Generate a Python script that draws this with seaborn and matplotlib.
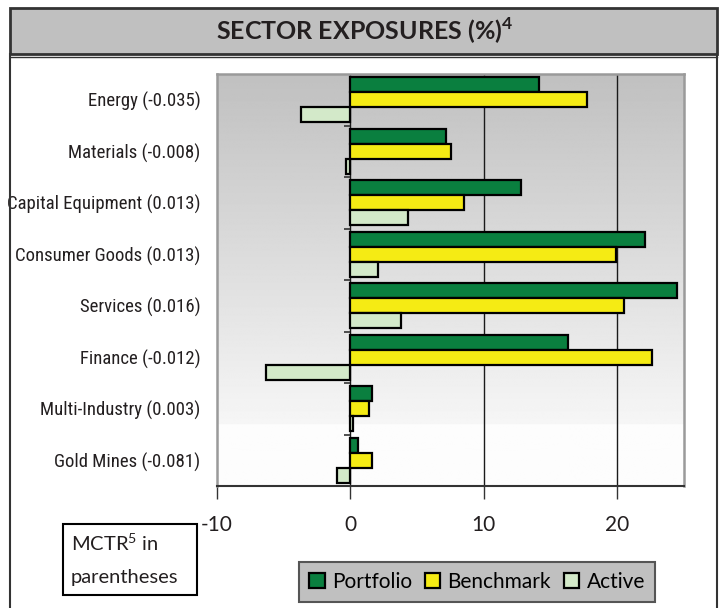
import numpy as np
import pandas as pd
import matplotlib
matplotlib.use("Agg")
import matplotlib.pyplot as plt
import seaborn as sns
from matplotlib.patches import Rectangle
from matplotlib.lines import Line2D
from matplotlib import font_manager

# ---- data ----
sectors = ["Energy (-0.035)", "Materials (-0.008)", "Capital Equipment (0.013)",
           "Consumer Goods (0.013)", "Services (0.016)", "Finance (-0.012)",
           "Multi-Industry (0.003)", "Gold Mines (-0.081)"]
portfolio = [14.1, 7.2, 12.8, 22.1, 24.5, 16.3, 1.6, 0.6]
benchmark = [17.7, 7.5, 8.5, 19.9, 20.5, 22.6, 1.4, 1.6]
active = [-3.7, -0.3, 4.3, 2.1, 3.8, -6.3, 0.2, -1.0]
series = ["Portfolio", "Benchmark", "Active"]
colors = ["#0a7f3f", "#f5eb14", "#d3e9c9"]
xticks = [-10, 0, 10, 20]
title = "SECTOR EXPOSURES (%)"

plt.rcParams["font.family"] = ["Lato", "DejaVu Sans"]
plt.rcParams["mathtext.fontset"] = "custom"
plt.rcParams["mathtext.rm"] = "Lato"
plt.rcParams["mathtext.bf"] = "Lato:bold"
plt.rcParams["axes.unicode_minus"] = False

LABEL_SIZE = 13.5
# pick a condensed family for the category labels if one is installed
names = sorted({f.name for f in font_manager.fontManager.ttflist})
narrow = None
for cand in ["Liberation Sans Narrow", "DejaVu Sans Condensed", "Roboto Condensed",
             "Open Sans Condensed", "Noto Sans Condensed"]:
    if cand in names:
        narrow = cand
        break
if narrow is None:
    cond = [f for f in font_manager.fontManager.ttflist
            if f.stretch in ("condensed", "semi-condensed", 500, 600) or "Condensed" in f.fname
            or "Narrow" in f.fname]
    regular = [f for f in cond if f.weight in (400, "normal", "regular") and f.style == "normal"]
    if regular:
        narrow = font_manager.FontProperties(fname=regular[0].fname)
if isinstance(narrow, str):
    label_font = font_manager.FontProperties(family=[narrow, "DejaVu Sans"], size=LABEL_SIZE)
elif narrow is not None:
    label_font = narrow.copy()
    label_font.set_size(LABEL_SIZE)
else:
    label_font = font_manager.FontProperties(family=["Lato", "DejaVu Sans"], size=11.2)

df = pd.DataFrame({
    "Sector": sectors * 3,
    "Series": sum([[s] * len(sectors) for s in series], []),
    "Value": portfolio + benchmark + active,
})

W, H = 720, 608
fig = plt.figure(figsize=(W / 100, H / 100), dpi=100)

def fx(x):
    return x / W

def fy(y):
    return 1 - y / H

# outer frame and title box
fig.add_artist(Line2D([fx(10), fx(10)], [fy(54), fy(610)], color="#333333", lw=1.5))
fig.add_artist(Line2D([fx(717), fx(717)], [fy(54), fy(610)], color="#333333", lw=1.5))
fig.add_artist(Rectangle((fx(10), fy(54)), fx(707), 46 / H, transform=fig.transFigure,
                         facecolor="#c0c0c0", edgecolor="#333333", lw=2))
fig.add_artist(Line2D([fx(10), fx(717)], [fy(57), fy(57)], color="#333333", lw=1))
fig.text(fx(365), fy(31), title + r"$^{\mathbf{4}}$", ha="center", va="center",
         fontsize=18, fontweight="bold", color="#231f20")

ax = fig.add_axes([fx(217), fy(486), (684 - 217) / W, (486 - 74) / H])

# gradient background
t = np.linspace(0, 1, 400)
g = np.where(t < 0.852, 0.753 + (0.965 - 0.753) * t / 0.852, 0.99)
ax.imshow(np.repeat(g[:, None], 2, axis=1), extent=[0, 1, 0, 1], transform=ax.transAxes,
          cmap="gray", vmin=0, vmax=1, aspect="auto", zorder=0, interpolation="bilinear")

sns.barplot(data=df, x="Value", y="Sector", hue="Series", hue_order=series,
            palette=dict(zip(series, colors)), orient="h", width=0.875, gap=0,
            saturation=1, edgecolor="black", linewidth=1.6, ax=ax, zorder=3)

ax.set_xlim(-10, 25)
ax.set_ylim(len(sectors) - 0.5, -0.5)
ax.set_xticks(xticks)
ax.set_xlabel("")
ax.set_ylabel("")

# vertical grid lines at ticks
for xt in xticks:
    if xt > -10:
        ax.axvline(xt, color="#1a1a1a", lw=1, zorder=2)

# category boundary tick marks on zero line
ax.hlines(np.arange(len(sectors) + 1) - 0.5, -0.45, 0, color="#333333", lw=1.2, zorder=2)

for side in ["left", "top", "right"]:
    ax.spines[side].set_color("#9a9a9a")
    ax.spines[side].set_linewidth(1.8)
ax.spines["bottom"].set_color("#333333")
ax.spines["bottom"].set_linewidth(1.5)

ax.tick_params(axis="x", direction="out", length=9, width=1, color="#333333",
               labelsize=15, pad=12, labelcolor="#231f20")
ax.tick_params(axis="y", length=0, pad=12, labelcolor="#231f20")
for lab in ax.get_yticklabels():
    lab.set_fontproperties(label_font)

handles, labels = ax.get_legend_handles_labels()
if ax.get_legend() is not None:
    ax.get_legend().remove()
leg = fig.legend(handles, labels, loc="center", bbox_to_anchor=(fx(477), fy(582)),
                 ncol=3, frameon=True, facecolor="#c0c0c0", edgecolor="#555555",
                 fancybox=False, framealpha=1, fontsize=15, handlelength=0.75,
                 handleheight=0.75, handletextpad=0.35, columnspacing=0.6, borderpad=0.5)
leg.get_frame().set_linewidth(1.5)

# MCTR note box
fig.add_artist(Rectangle((fx(63), fy(595)), 134 / W, 71 / H, transform=fig.transFigure,
                         facecolor="white", edgecolor="black", lw=1.5))
fig.text(fx(71), fy(543), r"MCTR$^{\mathregular{5}}$ in", ha="left", va="center",
         fontsize=14.5, color="#231f20")
fig.text(fx(71), fy(578), "parentheses", ha="left", va="center", fontsize=14.5,
         color="#231f20")

fig.savefig("out.png", dpi=100)
